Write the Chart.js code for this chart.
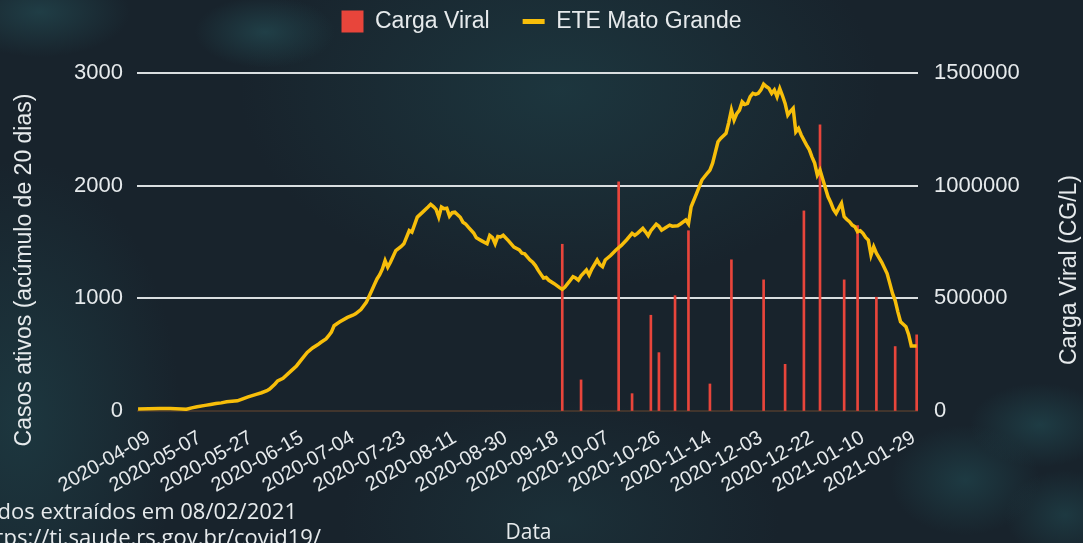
<!DOCTYPE html>
<html>
<head>
<meta charset="utf-8">
<script src="https://cdn.jsdelivr.net/npm/chart.js@4.4.1/dist/chart.umd.min.js"></script>
<style>
  html, body {
    margin: 0;
    padding: 0;
    width: 1083px;
    height: 543px;
    overflow: hidden;
  }
  body {
    background:
      radial-gradient(ellipse 70px 36px at 265px 32px, rgba(33, 66, 74, 0.9), rgba(33, 66, 74, 0) 100%),
      radial-gradient(ellipse 90px 45px at 40px 12px, rgba(33, 66, 74, 0.85), rgba(33, 66, 74, 0) 100%),
      radial-gradient(ellipse 70px 42px at 1040px 425px, rgba(31, 64, 72, 0.85), rgba(31, 64, 72, 0) 100%),
      radial-gradient(ellipse 75px 55px at 965px 480px, rgba(31, 64, 72, 0.8), rgba(31, 64, 72, 0) 100%),
      radial-gradient(ellipse 60px 45px at 1065px 515px, rgba(31, 64, 72, 0.75), rgba(31, 64, 72, 0) 100%),
      radial-gradient(ellipse 320px 200px at 560px 90px, rgba(30, 60, 68, 0.75), rgba(30, 60, 68, 0) 100%),
      radial-gradient(ellipse 160px 260px at 20px 420px, rgba(30, 60, 68, 0.8), rgba(30, 60, 68, 0) 100%),
      radial-gradient(ellipse 220px 120px at 560px 520px, rgba(30, 58, 66, 0.55), rgba(30, 58, 66, 0) 100%),
      #18232c;
  }
  #wrap {
    position: absolute;
    left: 0;
    top: 0;
    width: 1083px;
    height: 543px;
  }
</style>
</head>
<body>
<div id="wrap"><canvas id="chart" width="1083" height="543"></canvas></div>
<script>
// tick labels on the x axis, placed at day index tickDay[i]
const tickLabels = ['2020-04-09', '2020-05-07', '2020-05-27', '2020-06-15', '2020-07-04', '2020-07-23',
  '2020-08-11', '2020-08-30', '2020-09-18', '2020-10-07', '2020-10-26', '2020-11-14',
  '2020-12-03', '2020-12-22', '2021-01-10', '2021-01-29'];
const tickDay = [4, 23, 42, 61, 80, 99, 118, 137, 156, 175, 194, 213, 232, 251, 270, 289];

// Casos ativos (acumulo de 20 dias), ETE Mato Grande
const caseDay = [0, 4, 8, 12, 16, 18, 20, 22, 25, 27, 29, 31, 33, 35, 37, 39, 41, 44, 46, 48, 49, 51, 52, 54, 57,
  59, 61, 63, 65, 67, 68, 70, 71, 72, 73, 75, 78, 80, 81, 83, 85, 87, 88, 89, 90, 91, 92, 93, 94, 96, 98, 99,
  101, 102, 104, 106, 108, 109, 110, 111, 112, 113, 114, 115, 116, 117, 118, 120, 121, 122, 123, 125, 126, 128,
  130, 131, 132, 133, 134, 135, 136, 138, 140, 142, 143, 144, 146, 147, 148, 149, 150, 151, 152, 153, 155, 157,
  158, 159, 160, 161, 162, 163, 164, 165, 167, 168, 169, 171, 172, 173, 174, 176, 178, 180, 182, 184, 185, 186,
  188, 189, 190, 191, 193, 194, 195, 196, 198, 199, 201, 202, 204, 205, 206, 208, 210, 212, 213, 214, 216, 217,
  219, 220, 221, 222, 223, 224, 225, 226, 227, 228, 229, 230, 231, 232, 233, 234, 235, 236, 237, 238, 239, 240,
  241, 242, 243, 244, 245, 246, 247, 249, 250, 251, 252, 253, 254, 255, 256, 257, 258, 259, 260, 261, 262, 263,
  264, 265, 266, 267, 268, 269, 270, 271, 272, 273, 274, 275, 277, 279, 280, 281, 282, 283, 284, 285, 286, 287,
  288, 290];
const caseValues = [18, 20, 22, 22, 18, 15, 28, 38, 50, 58, 66, 72, 82, 86, 90, 108, 125, 148, 162, 180, 195, 240,
  268, 290, 356, 400, 460, 520, 560, 590, 608, 640, 668, 700, 757, 790, 831, 850, 862, 900, 964, 1068, 1120,
  1172, 1210, 1261, 1335, 1276, 1320, 1424, 1460, 1484, 1602, 1587, 1721, 1765, 1810, 1834, 1815, 1790, 1721,
  1810, 1795, 1800, 1730, 1760, 1765, 1720, 1676, 1660, 1632, 1580, 1537, 1510, 1484, 1558, 1540, 1484, 1549,
  1545, 1560, 1510, 1454, 1430, 1400, 1395, 1340, 1320, 1291, 1250, 1215, 1180, 1185, 1160, 1130, 1095, 1080,
  1100, 1130, 1160, 1192, 1180, 1162, 1200, 1251, 1207, 1260, 1340, 1300, 1281, 1340, 1380, 1429, 1470, 1520,
  1577, 1560, 1577, 1621, 1590, 1556, 1600, 1659, 1640, 1606, 1620, 1650, 1640, 1644, 1660, 1695, 1660, 1813,
  1930, 2050, 2110, 2138, 2200, 2390, 2420, 2464, 2560, 2671, 2582, 2640, 2671, 2744, 2720, 2730, 2790, 2819,
  2810, 2819, 2850, 2901, 2880, 2863, 2819, 2850, 2789, 2863, 2800, 2730, 2626, 2660, 2686, 2478, 2508, 2450,
  2360, 2320, 2256, 2200, 2094, 2138, 2060, 1980, 1901, 1850, 1790, 1754, 1800, 1843, 1724, 1700, 1680, 1650,
  1635, 1591, 1600, 1577, 1540, 1517, 1384, 1458, 1400, 1320, 1220, 1133, 1044, 980, 880, 792, 770, 748, 680,
  577, 577];

// Carga Viral (CG/L) samples
const loadDay = [158, 165, 179, 184, 191, 194, 200, 205, 213, 221, 233, 241, 248, 254, 263, 268, 275, 282, 290];
const loadValues = [740000, 138000, 1017000, 77000, 425000, 259000, 512000, 800000, 120000, 671000, 582000,
  207000, 888000, 1270000, 582000, 823000, 505000, 286000, 338000];

const textColor = '#E6EAEC';
const barColor = '#E8453B';
const lineColor = '#F7BE0A';
const tickFont = { family: 'Liberation Sans', size: 22 };

const extraText = {
  id: 'extraText',
  afterDraw(chart) {
    const { ctx, chartArea } = chart;
    const midY = 270;
    ctx.save();
    ctx.fillStyle = textColor;
    ctx.font = '23px "Liberation Sans"';
    ctx.textAlign = 'center';
    ctx.textBaseline = 'middle';
    ctx.translate(25, midY);
    ctx.rotate(-Math.PI / 2);
    ctx.fillText('Casos ativos (acúmulo de 20 dias)', 0, 0);
    ctx.restore();

    ctx.save();
    ctx.fillStyle = textColor;
    ctx.font = '23px "Liberation Sans"';
    ctx.textAlign = 'center';
    ctx.textBaseline = 'middle';
    ctx.translate(1070, midY);
    ctx.rotate(-Math.PI / 2);
    ctx.fillText('Carga Viral (CG/L)', 0, 0);
    ctx.restore();

    ctx.save();
    ctx.fillStyle = textColor;
    ctx.font = '21px "Open Sans"';
    ctx.textAlign = 'center';
    ctx.textBaseline = 'alphabetic';
    ctx.fillText('Data', (chartArea.left + chartArea.right) / 2 + 1, 539);
    ctx.textAlign = 'right';
    ctx.font = '22px "Open Sans"';
    ctx.fillText('Dados extraídos em 08/02/2021', 297, 519);
    ctx.fillText('https://ti.saude.rs.gov.br/covid19/', 321, 545);
    ctx.restore();
  }
};

// legend box is pulled up by the negative top padding, so it has to be taller
const legendHeight = {
  id: 'legendHeight',
  beforeInit(chart) {
    const fit = chart.legend.fit;
    chart.legend.fit = function () {
      fit.call(this);
      this.height = 96;
    };
  }
};

new Chart(document.getElementById('chart'), {
  data: {
    datasets: [
      {
        type: 'bar',
        label: 'Carga Viral',
        data: loadDay.map((d, i) => ({ x: d, y: loadValues[i] })),
        backgroundColor: barColor,
        borderWidth: 0,
        barThickness: 2,
        yAxisID: 'y1',
        order: 2
      },
      {
        type: 'line',
        label: 'ETE Mato Grande',
        data: caseDay.map((d, i) => ({ x: d, y: caseValues[i] })),
        borderColor: lineColor,
        backgroundColor: lineColor,
        borderWidth: 3.5,
        pointRadius: 0,
        tension: 0,
        yAxisID: 'y',
        order: 1
      }
    ]
  },
  options: {
    responsive: false,
    animation: false,
    layout: { padding: { top: -23, left: 0, right: 0, bottom: 0 } },
    plugins: {
      tooltip: { enabled: false },
      legend: {
        position: 'top',
        labels: {
          color: textColor,
          font: { family: 'Liberation Sans', size: 23 },
          usePointStyle: true,
          pointStyleWidth: 22,
          boxHeight: 22,
          padding: 33,
          sort: (a, b) => a.datasetIndex - b.datasetIndex,
          generateLabels(chart) {
            const items = Chart.defaults.plugins.legend.labels.generateLabels(chart);
            items.forEach(item => {
              if (item.datasetIndex === 0) {
                item.pointStyle = 'rect';
                item.lineWidth = 0;
                item.fillStyle = barColor;
              } else {
                item.pointStyle = 'line';
                item.lineWidth = 5;
                item.strokeStyle = lineColor;
              }
            });
            return items;
          }
        }
      }
    },
    scales: {
      x: {
        type: 'linear',
        offset: false,
        min: -0.4,
        max: 290.5,
        grid: { display: false, drawTicks: false },
        border: { display: false },
        afterBuildTicks(scale) {
          scale.ticks = tickDay.map(v => ({ value: v }));
        },
        afterFit(scale) {
          scale.height = 132;
        },
        ticks: {
          color: textColor,
          font: { family: 'Liberation Sans', size: 20 },
          autoSkip: false,
          minRotation: 30,
          maxRotation: 30,
          padding: 15,
          callback: (value) => tickLabels[tickDay.indexOf(value)]
        }
      },
      y: {
        position: 'left',
        min: 0,
        max: 3000,
        grid: {
          drawTicks: false,
          lineWidth: 2,
          color: (c) => c.tick.value === 0 ? 'rgba(70, 55, 45, 0.9)' : '#D9DEE0'
        },
        border: { display: false },
        afterFit(scale) {
          scale.width = 137;
        },
        ticks: {
          color: textColor,
          font: tickFont,
          stepSize: 1000,
          padding: 14,
          callback: (value) => String(value)
        }
      },
      y1: {
        position: 'right',
        min: 0,
        max: 1500000,
        grid: { drawOnChartArea: false, drawTicks: false },
        border: { display: false },
        afterFit(scale) {
          scale.width = 165;
        },
        ticks: {
          color: textColor,
          font: tickFont,
          stepSize: 500000,
          padding: 16,
          callback: (value) => String(value)
        }
      }
    }
  },
  plugins: [legendHeight, extraText]
});
</script>
</body>
</html>
